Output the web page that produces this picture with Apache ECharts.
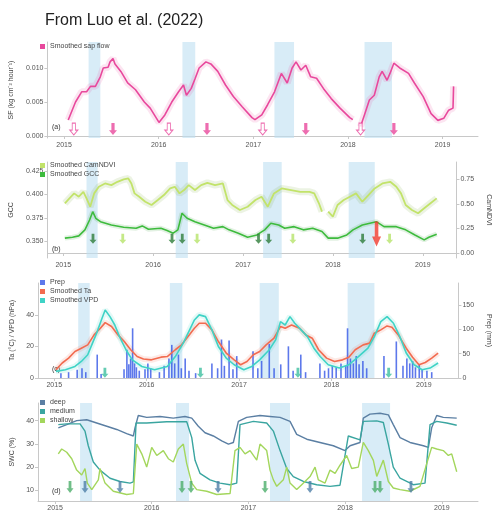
<!DOCTYPE html>
<html><head><meta charset="utf-8">
<script src="https://cdn.jsdelivr.net/npm/echarts@6/dist/echarts.min.js"></script>
<style>html,body{margin:0;padding:0;background:#fff}#c{width:500px;height:512px}</style>
</head><body><div id="c"></div>
<script>
// ---- data (x = decimal year) ----
const yearTicks = [2015, 2016, 2017, 2018, 2019];
const bands = [[2015.259, 2015.383], [2016.251, 2016.386], [2017.223, 2017.430], [2018.175, 2018.465]];

const sapFlow = [[2015.044,0.00235],[2015.121,0.0050],[2015.186,0.0065],[2015.238,0.0065],[2015.279,0.0073],[2015.331,0.0073],[2015.383,0.0087],[2015.414,0.0100],[2015.465,0.0101],[2015.486,0.0109],[2015.517,0.0114],[2015.538,0.0106],[2015.600,0.0095],[2015.672,0.0078],[2015.755,0.0068],[2015.848,0.0050],[2015.910,0.0041],[2016.003,0.0020],[2016.065,0.0031],[2016.138,0.0050],[2016.210,0.0065],[2016.262,0.0075],[2016.293,0.0060],[2016.344,0.0070],[2016.386,0.0085],[2016.427,0.0100],[2016.499,0.0109],[2016.551,0.0106],[2016.624,0.0095],[2016.706,0.0075],[2016.789,0.0058],[2016.882,0.0043],[2016.986,0.0027],[2017.017,0.0024],[2017.089,0.0031],[2017.151,0.0046],[2017.224,0.0065],[2017.296,0.0092],[2017.358,0.0078],[2017.410,0.0100],[2017.451,0.0109],[2017.503,0.0097],[2017.554,0.0104],[2017.606,0.0087],[2017.668,0.0085],[2017.740,0.0070],[2017.823,0.0055],[2017.916,0.0041],[2018.019,0.0027],[2018.051,0.0024],[2018.090,null],[2018.133,0.0014],[2018.174,0.0031],[2018.226,0.0053],[2018.278,0.0060],[2018.330,0.0087],[2018.361,0.0095],[2018.413,0.0082],[2018.444,0.0092],[2018.485,0.0107],[2018.547,0.0100],[2018.640,0.0092],[2018.702,0.0078],[2018.795,0.0058],[2018.878,0.0033],[2018.950,0.0023],[2019.012,0.0026],[2019.064,0.0038],[2019.110,0.0041],[2019.116,0.0073]];

const camNDVI = [[2015.018,0.507],[2015.069,0.557],[2015.121,0.608],[2015.173,0.574],[2015.224,0.624],[2015.259,0.557],[2015.300,0.472],[2015.344,0.608],[2015.396,0.675],[2015.465,0.709],[2015.535,0.692],[2015.603,0.726],[2015.672,0.750],[2015.724,0.760],[2015.758,0.709],[2015.793,0.608],[2015.845,0.574],[2015.913,0.523],[2015.982,0.490],[2016.052,0.540],[2016.120,0.591],[2016.189,0.659],[2016.241,0.675],[2016.293,0.608],[2016.344,0.642],[2016.396,0.692],[2016.465,0.642],[2016.534,0.692],[2016.603,0.716],[2016.689,0.692],[2016.776,0.709],[2016.827,0.540],[2016.879,0.490],[2016.965,0.439],[2017.051,0.472],[2017.138,0.540],[2017.206,0.574],[2017.275,0.472],[2017.344,0.608],[2017.430,0.659],[2017.534,0.642],[2017.637,0.624],[2017.740,0.624],[2017.792,0.608],[2017.844,0.507],[2017.878,0.422],[2017.910,null],[2017.947,0.422],[2017.999,0.371],[2018.051,0.490],[2018.120,0.540],[2018.188,0.574],[2018.257,0.608],[2018.327,0.523],[2018.395,0.591],[2018.464,0.659],[2018.550,0.709],[2018.637,0.726],[2018.705,0.675],[2018.757,0.608],[2018.809,0.490],[2018.878,0.439],[2018.947,0.405],[2019.015,0.456],[2019.085,0.507],[2019.154,0.557]];

const gcc = [[2015.018,0.3536],[2015.103,0.3546],[2015.173,0.3560],[2015.241,0.3624],[2015.293,0.3729],[2015.328,0.3817],[2015.362,0.3747],[2015.414,0.3711],[2015.535,0.3676],[2015.672,0.3652],[2015.810,0.3641],[2015.879,0.3666],[2015.948,0.3631],[2016.086,0.3641],[2016.155,0.3616],[2016.223,0.3589],[2016.275,0.3624],[2016.321,0.3800],[2016.378,0.3747],[2016.465,0.3711],[2016.569,0.3676],[2016.672,0.3641],[2016.776,0.3658],[2016.844,0.3624],[2016.947,0.3589],[2017.051,0.3546],[2017.154,0.3570],[2017.241,0.3624],[2017.309,0.3694],[2017.396,0.3676],[2017.464,0.3641],[2017.568,0.3658],[2017.671,0.3624],[2017.775,0.3641],[2017.878,0.3606],[2017.947,0.3536],[2018.051,0.3536],[2018.154,0.3570],[2018.223,0.3624],[2018.327,0.3676],[2018.482,0.3711],[2018.568,0.3658],[2018.705,0.3658],[2018.809,0.3624],[2018.912,0.3570],[2019.015,0.3518],[2019.067,0.3546],[2019.154,0.3578]];

const ta = [[2015.018,5.2],[2015.086,9.5],[2015.155,12.6],[2015.224,16.8],[2015.293,18.9],[2015.362,21.0],[2015.431,27.3],[2015.499,31.5],[2015.551,35.1],[2015.620,32.6],[2015.690,27.3],[2015.758,23.1],[2015.827,17.9],[2015.897,13.6],[2015.965,12.0],[2016.052,11.5],[2016.155,13.2],[2016.223,13.6],[2016.310,17.9],[2016.378,21.0],[2016.448,26.3],[2016.517,31.5],[2016.569,34.7],[2016.637,34.7],[2016.706,30.5],[2016.776,23.1],[2016.861,15.8],[2016.947,11.5],[2017.017,8.4],[2017.086,10.5],[2017.154,14.7],[2017.223,16.8],[2017.293,21.0],[2017.378,25.2],[2017.448,32.6],[2017.499,31.5],[2017.568,33.6],[2017.655,31.5],[2017.723,27.3],[2017.792,25.2],[2017.861,17.9],[2017.947,12.6],[2018.033,10.5],[2018.120,11.5],[2018.188,13.2],[2018.257,17.9],[2018.343,21.0],[2018.413,22.1],[2018.464,28.4],[2018.534,30.5],[2018.602,33.0],[2018.654,32.2],[2018.723,27.3],[2018.809,18.9],[2018.878,13.2],[2018.947,8.4],[2019.015,9.8],[2019.085,12.6],[2019.154,15.8]];

const vpd = [[2015.018,4.2],[2015.121,5.2],[2015.224,7.3],[2015.293,10.5],[2015.362,14.7],[2015.414,22.1],[2015.465,29.4],[2015.517,37.9],[2015.551,43.1],[2015.603,38.9],[2015.655,33.6],[2015.706,26.2],[2015.776,17.9],[2015.845,11.5],[2015.948,7.3],[2016.086,5.2],[2016.223,7.3],[2016.310,13.6],[2016.396,22.1],[2016.465,30.5],[2016.517,36.8],[2016.569,40.0],[2016.637,38.9],[2016.706,30.5],[2016.776,20.0],[2016.861,12.6],[2016.947,8.4],[2017.051,5.2],[2017.138,7.3],[2017.223,11.5],[2017.327,17.9],[2017.396,24.2],[2017.448,35.7],[2017.499,33.6],[2017.551,38.9],[2017.603,34.7],[2017.671,30.5],[2017.740,26.2],[2017.810,18.9],[2017.878,13.6],[2017.965,8.4],[2018.085,6.3],[2018.188,8.4],[2018.292,13.6],[2018.395,18.9],[2018.464,26.2],[2018.534,35.7],[2018.602,38.9],[2018.671,34.7],[2018.740,26.2],[2018.809,15.8],[2018.895,8.4],[2018.981,5.2],[2019.067,6.3],[2019.154,9.5]];

const prep = [[2015.072,10],[2015.155,12],[2015.248,17],[2015.300,20],[2015.341,12],[2015.465,48],[2015.507,8],[2015.755,18],[2015.786,58],[2015.807,28],[2015.827,40],[2015.848,102],[2015.869,30],[2015.889,22],[2015.920,15],[2015.982,18],[2016.013,30],[2016.044,20],[2016.138,12],[2016.189,25],[2016.241,40],[2016.272,68],[2016.303,30],[2016.344,48],[2016.375,20],[2016.417,40],[2016.458,15],[2016.530,10],[2016.706,30],[2016.768,20],[2016.810,79],[2016.841,25],[2016.892,77],[2016.934,18],[2016.975,45],[2017.151,55],[2017.203,20],[2017.244,35],[2017.327,70],[2017.379,20],[2017.451,28],[2017.534,65],[2017.585,15],[2017.668,48],[2017.720,12],[2017.875,30],[2017.926,15],[2017.968,20],[2018.009,25],[2018.051,22],[2018.103,30],[2018.154,25],[2018.174,102],[2018.205,40],[2018.237,30],[2018.268,45],[2018.299,28],[2018.340,35],[2018.381,20],[2018.568,45],[2018.702,75],[2018.774,25],[2018.816,40],[2018.847,30],[2018.878,35],[2018.909,22],[2018.950,28],[2018.981,18],[2019.033,15],[2019.085,12]];

const swcDeep = [[2015.034,36.9],[2015.121,38.3],[2015.224,40.0],[2015.328,40.4],[2015.431,39.0],[2015.535,37.6],[2015.638,36.2],[2015.741,34.4],[2015.810,33.4],[2015.827,36.9],[2015.861,42.2],[2015.948,41.4],[2016.086,41.8],[2016.223,41.1],[2016.344,41.8],[2016.414,41.1],[2016.482,37.6],[2016.551,34.8],[2016.637,33.4],[2016.724,31.3],[2016.793,29.9],[2016.844,30.6],[2016.896,39.7],[2016.982,41.4],[2017.120,42.2],[2017.223,41.8],[2017.327,41.4],[2017.430,39.7],[2017.499,34.1],[2017.603,32.0],[2017.740,30.6],[2017.878,29.2],[2017.999,27.1],[2018.051,29.2],[2018.154,30.6],[2018.188,41.1],[2018.257,42.8],[2018.361,43.2],[2018.447,42.5],[2018.498,38.3],[2018.568,32.7],[2018.671,30.6],[2018.809,29.2],[2018.861,28.5],[2018.895,36.9],[2018.947,42.2],[2019.015,41.4],[2019.154,41.1]];

const swcMedium = [[2015.034,38.3],[2015.121,38.6],[2015.259,38.6],[2015.310,35.5],[2015.344,29.2],[2015.396,22.2],[2015.465,18.7],[2015.569,15.2],[2015.672,13.8],[2015.776,13.1],[2015.810,13.6],[2015.838,39.0],[2015.948,39.0],[2016.155,39.5],[2016.362,39.5],[2016.414,32.7],[2016.448,22.9],[2016.499,17.3],[2016.603,14.5],[2016.706,13.1],[2016.810,12.4],[2016.879,13.1],[2016.913,38.3],[2017.051,39.7],[2017.189,39.0],[2017.258,35.5],[2017.327,27.1],[2017.396,19.4],[2017.464,15.9],[2017.568,13.8],[2017.706,12.4],[2017.844,11.7],[2017.947,12.2],[2018.033,33.4],[2018.154,31.7],[2018.188,39.7],[2018.327,39.9],[2018.395,39.2],[2018.447,29.9],[2018.498,20.0],[2018.568,15.2],[2018.705,12.4],[2018.826,13.1],[2018.878,38.3],[2018.947,39.7],[2019.051,39.0],[2019.154,38.0]];

const swcShallow = [[2015.034,25.7],[2015.069,27.8],[2015.121,26.4],[2015.173,23.6],[2015.224,18.7],[2015.276,16.6],[2015.310,19.4],[2015.334,13.1],[2015.380,10.3],[2015.448,14.5],[2015.465,19.4],[2015.517,13.1],[2015.603,9.6],[2015.741,8.2],[2015.810,8.6],[2015.845,29.9],[2015.897,25.7],[2015.948,20.0],[2016.000,28.5],[2016.052,25.0],[2016.120,27.1],[2016.172,23.6],[2016.223,22.2],[2016.275,27.8],[2016.327,29.9],[2016.362,21.5],[2016.414,13.1],[2016.465,10.3],[2016.569,9.6],[2016.672,8.2],[2016.810,8.6],[2016.861,27.1],[2016.913,28.5],[2016.965,25.7],[2017.017,27.1],[2017.086,23.0],[2017.120,29.9],[2017.189,27.1],[2017.223,18.7],[2017.258,14.5],[2017.293,11.7],[2017.361,14.5],[2017.396,20.0],[2017.430,13.1],[2017.499,10.3],[2017.551,12.4],[2017.637,15.9],[2017.689,20.0],[2017.723,14.5],[2017.792,13.1],[2017.844,18.7],[2017.896,17.3],[2017.947,20.8],[2018.016,25.0],[2018.068,19.4],[2018.136,20.0],[2018.188,30.6],[2018.240,27.1],[2018.292,22.9],[2018.327,16.0],[2018.395,23.0],[2018.447,13.8],[2018.498,11.0],[2018.568,10.3],[2018.671,9.6],[2018.774,11.7],[2018.844,21.5],[2018.895,28.5],[2018.947,27.8],[2019.015,27.1],[2019.067,25.0],[2019.102,25.7],[2019.154,18.0]];

const arrowsSapHollow = [[2015.103,0.00103],[2016.107,0.00103],[2017.099,0.00103],[2018.133,0.00103]];
const arrowsSapFilled = [[2015.517,0.00103],[2016.510,0.00103],[2017.554,0.00103],[2018.485,0.00103]];
const arrowsGccDark = [[2015.331,0.3529],[2016.210,0.3529],[2016.324,0.3529],[2017.172,0.3529],[2017.285,0.3529],[2018.330,0.3529]];
const arrowsGccLight = [[2015.662,0.3529],[2016.489,0.3529],[2017.554,0.3529],[2018.630,0.3529]];
const arrowsGccRed = [[2018.485,0.3581]];
const arrowsMet = [[2015.548,3.3],[2016.582,3.3],[2017.637,3.3],[2018.619,3.3]];
const arrowsSwcGreen = [[2015.155,11.4],[2016.313,11.4],[2016.406,11.4],[2017.172,11.4],[2018.309,11.4],[2018.361,11.4]];
const arrowsSwcBlue = [[2015.310,11.4],[2015.672,11.4],[2016.686,11.4],[2017.637,11.4],[2018.681,11.4]];

// ---- chart ----
const chart = echarts.init(document.getElementById('c'), null, {renderer: 'canvas'});
const ARROW = 'path://M3,0L7,0L7,9L10,9L5,15L0,9L3,9Z';
const lab = {fontSize: 7, color: '#555', fontFamily: 'Liberation Sans, Arial, sans-serif'};
const axLine = {show: true, lineStyle: {color: '#c8c8c8', width: 1}};
const grids = [
  {left: 38, top: 42, width: 440, height: 96},
  {left: 38, top: 162, width: 440, height: 96},
  {left: 38, top: 283, width: 440, height: 95},
  {left: 38, top: 403, width: 440, height: 100}
];
function xAx(i) {
  return {type: 'value', gridIndex: i, min: 2014.824, max: 2019.374,
    axisLine: axLine, splitLine: {show: false},
    axisTick: {show: true, length: 3, lineStyle: {color: '#c8c8c8'}, customValues: yearTicks},
    axisLabel: Object.assign({customValues: yearTicks, margin: 4, formatter: v => String(Math.round(v))}, lab)};
}
function yAx(i, min, max, vals, dec, name, pos, gap) {
  return {type: 'value', gridIndex: i, min: min, max: max, position: pos || 'left',
    name: name, nameLocation: 'middle', nameGap: gap, nameRotate: pos === 'right' ? -90 : 90,
    nameTextStyle: {fontSize: 7, color: '#444'},
    axisLine: axLine, splitLine: {show: false},
    axisTick: {show: true, length: 3, lineStyle: {color: '#c8c8c8'}, customValues: vals},
    axisLabel: Object.assign({customValues: vals, margin: 4, formatter: v => v.toFixed(dec)}, lab)};
}
function bandSeries(xi, yi) {
  return {type: 'scatter', xAxisIndex: xi, yAxisIndex: yi, data: [], symbolSize: 0, silent: true, z: 0,
    markArea: {silent: true, itemStyle: {color: 'rgba(190,224,241,0.6)'},
      data: bands.map(b => [{xAxis: b[0]}, {xAxis: b[1]}])}};
}
function halo(xi, yi, data, color, w) {
  return {type: 'line', xAxisIndex: xi, yAxisIndex: yi, data: data, showSymbol: false, silent: true, z: 1,
    lineStyle: {color: color, width: w || 6, opacity: 0.14}};
}
function line(name, xi, yi, data, color, w) {
  return {name: name, type: 'line', xAxisIndex: xi, yAxisIndex: yi, data: data, showSymbol: false, z: 3,
    itemStyle: {color: color}, lineStyle: {color: color, width: w || 1.4}};
}
function arrows(xi, yi, data, color, hollow, size) {
  return {type: 'scatter', xAxisIndex: xi, yAxisIndex: yi, data: data, symbol: ARROW, symbolSize: size || [7, 11],
    z: 5, silent: true,
    itemStyle: hollow ? {color: '#fff', borderColor: color, borderWidth: 1} : {color: color}};
}
function legend(top, names) {
  return {left: 40, top: top, orient: 'vertical', itemWidth: 5, itemHeight: 5, itemGap: 2, padding: 0,
    icon: 'rect', data: names, textStyle: {fontSize: 7, color: '#444'}, selectedMode: false};
}
const PINK = '#e8489c', NDVI = '#c2e36a', GCC = '#3dbb3d', TA = '#f26b50', VPD = '#3fd3c6', PREP = '#3556e6';
const DEEP = '#5b7fa3', MED = '#3aa5a0', SHAL = '#a3d65c';

chart.setOption({
  animation: false,
  backgroundColor: '#fff',
  title: {text: 'From Luo et al. (2022)', left: 40, top: 8,
    textStyle: {fontSize: 16, fontWeight: 'normal', color: '#222', fontFamily: 'Liberation Sans, Arial, sans-serif'}},
  grid: grids,
  xAxis: [xAx(0), xAx(1), xAx(2), xAx(3)],
  yAxis: [
    yAx(0, -0.00029, 0.01382, [0, 0.005, 0.01], 3, 'SF (kg cm⁻² hour⁻¹)', 'left', 26),
    yAx(1, 0.3325, 0.4345, [0.35, 0.375, 0.4, 0.425], 3, 'GCC', 'left', 26),
    yAx(1, -0.0507, 0.928, [0, 0.25, 0.5, 0.75], 2, 'CamNDVI', 'right', 17),
    yAx(2, 0, 60.2, [0, 20, 40], 0, 'Ta (°C) / VPD (hPa)', 'left', 22),
    yAx(2, 0, 195, [0, 50, 100, 150], 0, 'Prep (mm)', 'right', 17),
    yAx(3, 5.4, 47.6, [10, 20, 30, 40], 0, 'SWC (%)', 'left', 22)
  ],
  legend: [
    legend(43, ['Smoothed sap flow']),
    legend(162, ['Smoothed CamNDVI', 'Smoothed GCC']),
    legend(279, ['Prep', 'Smoothed Ta', 'Smoothed VPD']),
    legend(399, ['deep', 'medium', 'shallow'])
  ],
  graphic: [
    {type: 'text', left: 52, top: 124, style: {text: '(a)', fontSize: 7, fill: '#333'}},
    {type: 'text', left: 52, top: 246, style: {text: '(b)', fontSize: 7, fill: '#333'}},
    {type: 'text', left: 52, top: 366, style: {text: '(c)', fontSize: 7, fill: '#333'}},
    {type: 'text', left: 52, top: 488, style: {text: '(d)', fontSize: 7, fill: '#333'}}
  ],
  series: [
    bandSeries(0, 0),
    halo(0, 0, sapFlow, PINK, 7),
    line('Smoothed sap flow', 0, 0, sapFlow, PINK, 1.6),
    arrows(0, 0, arrowsSapHollow, PINK, true, [8, 12]),
    arrows(0, 0, arrowsSapFilled, PINK, false, [8, 12]),

    bandSeries(1, 1),
    halo(1, 2, camNDVI, '#7aa83a', 7),
    line('Smoothed CamNDVI', 1, 2, camNDVI, NDVI, 1.8),
    halo(1, 1, gcc, '#2f9a2f', 5),
    line('Smoothed GCC', 1, 1, gcc, GCC, 1.6),
    arrows(1, 1, arrowsGccDark, '#2e7d3a', false, [7, 10]),
    arrows(1, 1, arrowsGccLight, '#b6e36a', false, [7, 10]),
    arrows(1, 1, arrowsGccRed, '#f03a2e', false, [9, 25]),

    bandSeries(2, 3),
    {name: 'Prep', type: 'bar', xAxisIndex: 2, yAxisIndex: 4, data: prep, barWidth: 1.6, z: 2,
      itemStyle: {color: PREP, opacity: 0.8}},
    halo(2, 3, ta, TA, 6),
    line('Smoothed Ta', 2, 3, ta, TA, 1.6),
    halo(2, 3, vpd, VPD, 6),
    line('Smoothed VPD', 2, 3, vpd, VPD, 1.6),
    arrows(2, 3, arrowsMet, '#3fbfa0', false, [7, 10]),

    bandSeries(3, 5),
    line('deep', 3, 5, swcDeep, DEEP, 1.4),
    line('medium', 3, 5, swcMedium, MED, 1.4),
    line('shallow', 3, 5, swcShallow, SHAL, 1.4),
    arrows(3, 5, arrowsSwcGreen, '#4cae6a', false, [7, 12]),
    arrows(3, 5, arrowsSwcBlue, '#4f7fa8', false, [7, 12])
  ]
});
</script>
</body></html>
